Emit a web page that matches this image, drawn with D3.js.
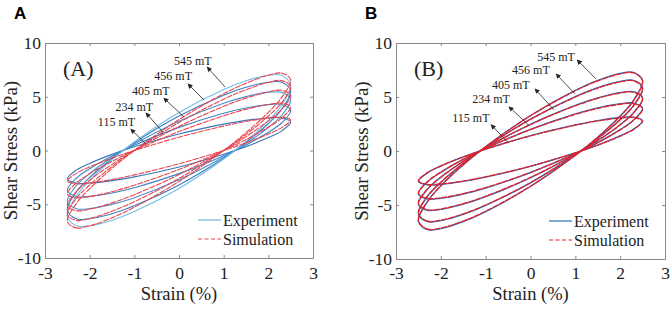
<!DOCTYPE html>
<html>
<head>
<meta charset="utf-8">
<script src="https://cdn.jsdelivr.net/npm/d3@7"></script>
<style>
body { margin: 0; background: #fff; }
svg { display: block; }
</style>
</head>
<body>
<div id="chart"></div>
<script>
const strainGrid = [-2.5, -2.3, -2, -1.5, -1, 0, 1, 1.5, 2, 2.3, 2.5];
const fieldLabels = ["115 mT", "234 mT", "405 mT", "456 mT", "545 mT"];
const xTicks = [-3, -2, -1, 0, 1, 2, 3];
const yTicks = [-10, -5, 0, 5, 10];

// Panel A - experiment, shear stress (kPa) on the upper / lower branch
const expUpperA = [
    [-2.64, -1.83, -1.20, -0.36, 0.34, 1.53, 2.45, 2.80, 3.03, 3.03, 2.64],
    [-3.72, -2.58, -1.69, -0.51, 0.48, 2.15, 3.46, 3.95, 4.27, 4.27, 3.72],
    [-4.72, -3.28, -2.14, -0.65, 0.61, 2.73, 4.39, 5.01, 5.41, 5.41, 4.72],
    [-5.54, -3.85, -2.51, -0.77, 0.72, 3.20, 5.15, 5.89, 6.35, 6.35, 5.54],
    [-6.11, -4.24, -2.77, -0.84, 0.79, 3.53, 5.67, 6.48, 7.00, 7.00, 6.11]
];
const expLowerA = [
    [-2.64, -3.03, -3.03, -2.80, -2.45, -1.53, -0.34, 0.36, 1.20, 1.83, 2.64],
    [-3.72, -4.27, -4.27, -3.95, -3.46, -2.15, -0.48, 0.51, 1.69, 2.58, 3.72],
    [-4.72, -5.41, -5.41, -5.01, -4.39, -2.73, -0.61, 0.65, 2.14, 3.28, 4.72],
    [-5.54, -6.35, -6.35, -5.89, -5.15, -3.20, -0.72, 0.77, 2.51, 3.85, 5.54],
    [-6.11, -7.00, -7.00, -6.48, -5.67, -3.53, -0.79, 0.84, 2.77, 4.24, 6.11]
];

// Panel A - simulation
const simUpperA = [
    [-2.84, -2.13, -1.53, -0.71, 0.00, 1.24, 2.27, 2.70, 3.02, 3.10, 2.84],
    [-4.03, -3.02, -2.17, -1.01, 0.00, 1.76, 3.23, 3.83, 4.28, 4.40, 4.03],
    [-5.13, -3.84, -2.76, -1.29, 0.00, 2.24, 4.11, 4.87, 5.45, 5.60, 5.13],
    [-5.96, -4.46, -3.21, -1.49, 0.00, 2.60, 4.77, 5.65, 6.33, 6.50, 5.96],
    [-6.60, -4.94, -3.55, -1.66, 0.00, 2.88, 5.28, 6.26, 7.01, 7.20, 6.60]
];
const simLowerA = [
    [-2.84, -3.10, -3.02, -2.70, -2.27, -1.24, 0.00, 0.71, 1.53, 2.13, 2.84],
    [-4.03, -4.40, -4.28, -3.83, -3.23, -1.76, 0.00, 1.01, 2.17, 3.02, 4.03],
    [-5.13, -5.60, -5.45, -4.87, -4.11, -2.24, 0.00, 1.29, 2.76, 3.84, 5.13],
    [-5.96, -6.50, -6.33, -5.65, -4.77, -2.60, 0.00, 1.49, 3.21, 4.46, 5.96],
    [-6.60, -7.20, -7.01, -6.26, -5.28, -2.88, 0.00, 1.66, 3.55, 4.94, 6.60]
];

// Panel B - experiment
const expUpperB = [
    [-2.81, -2.03, -1.40, -0.55, 0.17, 1.42, 2.42, 2.82, 3.10, 3.14, 2.81],
    [-3.97, -2.87, -1.98, -0.78, 0.25, 2.00, 3.43, 3.99, 4.38, 4.44, 3.97],
    [-4.91, -3.55, -2.44, -0.97, 0.30, 2.48, 4.23, 4.93, 5.41, 5.49, 4.91],
    [-5.85, -4.23, -2.91, -1.15, 0.36, 2.95, 5.04, 5.87, 6.45, 6.54, 5.85],
    [-6.52, -4.71, -3.24, -1.28, 0.40, 3.29, 5.62, 6.54, 7.19, 7.29, 6.52]
];
const expLowerB = [
    [-2.81, -3.14, -3.10, -2.82, -2.42, -1.42, -0.17, 0.55, 1.40, 2.03, 2.81],
    [-3.97, -4.44, -4.38, -3.99, -3.43, -2.00, -0.25, 0.78, 1.98, 2.87, 3.97],
    [-4.91, -5.49, -5.41, -4.93, -4.23, -2.48, -0.30, 0.97, 2.44, 3.55, 4.91],
    [-5.85, -6.54, -6.45, -5.87, -5.04, -2.95, -0.36, 1.15, 2.91, 4.23, 5.85],
    [-6.52, -7.29, -7.19, -6.54, -5.62, -3.29, -0.40, 1.28, 3.24, 4.71, 6.52]
];

// Panel B - simulation
const simUpperB = [
    [-2.77, -2.00, -1.38, -0.55, 0.17, 1.40, 2.39, 2.78, 3.05, 3.09, 2.77],
    [-3.93, -2.84, -1.96, -0.77, 0.24, 1.98, 3.39, 3.94, 4.33, 4.39, 3.93],
    [-4.87, -3.52, -2.42, -0.96, 0.30, 2.45, 4.19, 4.88, 5.37, 5.44, 4.87],
    [-5.80, -4.19, -2.89, -1.14, 0.36, 2.93, 5.00, 5.82, 6.40, 6.49, 5.80],
    [-6.47, -4.68, -3.22, -1.28, 0.40, 3.26, 5.58, 6.49, 7.14, 7.24, 6.47]
];
const simLowerB = [
    [-2.77, -3.09, -3.05, -2.78, -2.39, -1.40, -0.17, 0.55, 1.38, 2.00, 2.77],
    [-3.93, -4.39, -4.33, -3.94, -3.39, -1.98, -0.24, 0.77, 1.96, 2.84, 3.93],
    [-4.87, -5.44, -5.37, -4.88, -4.19, -2.45, -0.30, 0.96, 2.42, 3.52, 4.87],
    [-5.80, -6.49, -6.40, -5.82, -5.00, -2.93, -0.36, 1.14, 2.89, 4.19, 5.80],
    [-6.47, -7.24, -7.14, -6.49, -5.58, -3.26, -0.40, 1.28, 3.22, 4.68, 6.47]
];

// field labels: text centre (strain, stress), arrow tail and head
const labelPosA = [[-1.40, 2.65], [-1.00, 4.05], [-0.63, 5.53], [-0.13, 6.93], [0.31, 8.33]];
const arrowsA = [
    [-0.74, 0.60, -1.08, 2.00],
    [-0.36, 1.72, -0.74, 3.49],
    [0.11, 3.12, -0.34, 4.88],
    [0.56, 4.70, 0.20, 6.19],
    [1.03, 5.91, 0.63, 7.77]
];
const labelPosB = [[-1.33, 3.09], [-0.88, 4.84], [-0.44, 6.13], [0.01, 7.51], [0.57, 8.71]];
const arrowsB = [
    [-0.50, 0.78, -0.88, 2.44],
    [-0.03, 2.35, -0.48, 4.10],
    [0.52, 3.82, 0.10, 5.76],
    [0.99, 5.30, 0.57, 7.14],
    [1.46, 6.68, 1.04, 8.43]
];

const serif = "'Liberation Serif', 'Times New Roman', serif";

const panels = [
    {
        letter: "A", tag: "(A)",
        left: 45, right: 313, top: 43, bottom: 258,
        expUpper: expUpperA, expLower: expLowerA, simUpper: simUpperA, simLower: simLowerA,
        labels: labelPosA, arrows: arrowsA,
        expColors: ["#3a79b8", "#3f84c2", "#4a90cc", "#3b7cbd", "#72bde4"],
        expLegend: "#6fb6e0",
        simColor: "#e8444e", width: 1.1
    },
    {
        letter: "B", tag: "(B)",
        left: 396, right: 665, top: 43, bottom: 259,
        expUpper: expUpperB, expLower: expLowerB, simUpper: simUpperB, simLower: simLowerB,
        labels: labelPosB, arrows: arrowsB,
        expColors: ["#2a6ebb", "#2a6ebb", "#2a6ebb", "#2a6ebb", "#2a6ebb"],
        expLegend: "#2a6ebb",
        simColor: "#e3202a", width: 1.3
    }
];

const svg = d3.select("#chart")
    .append("svg")
    .attr("width", 671)
    .attr("height", 310);

svg.append("defs").append("marker")
    .attr("id", "arrowHead")
    .attr("viewBox", "0 0 10 10")
    .attr("refX", 9)
    .attr("refY", 5)
    .attr("markerUnits", "userSpaceOnUse")
    .attr("markerWidth", 6)
    .attr("markerHeight", 5)
    .attr("orient", "auto")
    .append("path")
    .attr("d", "M0,0 L10,5 L0,10 z")
    .attr("fill", "#222");

// one closed loop: lower branch left to right, then upper branch back
function loopPoints(upper, lower) {
    const pts = strainGrid.map((s, i) => [s, lower[i]]);
    for (let i = strainGrid.length - 2; i > 0; i--) pts.push([strainGrid[i], upper[i]]);
    return pts;
}

panels.forEach(p => {
    const x = d3.scaleLinear().domain([-3, 3]).range([p.left, p.right]);
    const y = d3.scaleLinear().domain([-10, 10]).range([p.bottom, p.top]);

    const g = svg.append("g");

    // panel letter
    g.append("text")
        .attr("x", p.left - 31)
        .attr("y", 19)
        .style("font-family", "'Liberation Sans', Arial, sans-serif")
        .style("font-weight", "bold")
        .style("font-size", "17px")
        .text(p.letter);

    const line = d3.line()
        .x(d => x(d[0]))
        .y(d => y(d[1]))
        .curve(d3.curveCatmullRomClosed.alpha(0.5));

    // experiment loops
    p.expUpper.forEach((u, i) => {
        g.append("path")
            .attr("d", line(loopPoints(u, p.expLower[i])))
            .attr("fill", "none")
            .attr("stroke", p.expColors[i])
            .attr("stroke-width", p.width);
    });

    // simulation loops
    p.simUpper.forEach((u, i) => {
        g.append("path")
            .attr("d", line(loopPoints(u, p.simLower[i])))
            .attr("fill", "none")
            .attr("stroke", p.simColor)
            .attr("stroke-width", p.width)
            .attr("stroke-dasharray", "6,1");
    });

    // axes, ticks pointing inward on all four sides
    const axisStyle = sel => {
        sel.select(".domain").attr("stroke", "#8a8a8a");
        sel.selectAll(".tick line").attr("stroke", "#8a8a8a");
        sel.selectAll(".tick text")
            .style("font-family", serif)
            .style("font-size", "17.5px")
            .attr("fill", "#222");
    };

    g.append("g")
        .attr("transform", `translate(0,${p.bottom})`)
        .call(d3.axisBottom(x).tickValues(xTicks).tickFormat(d => String(d))
            .tickSizeInner(-3).tickSizeOuter(0).tickPadding(267 - p.bottom))
        .call(axisStyle);

    g.append("g")
        .attr("transform", `translate(0,${p.top})`)
        .call(d3.axisTop(x).tickValues(xTicks).tickFormat("")
            .tickSizeInner(-3).tickSizeOuter(0))
        .call(axisStyle);

    g.append("g")
        .attr("transform", `translate(${p.left},0)`)
        .call(d3.axisLeft(y).tickValues(yTicks).tickFormat(d => String(d))
            .tickSizeInner(-3).tickSizeOuter(0).tickPadding(4))
        .call(axisStyle);

    g.append("g")
        .attr("transform", `translate(${p.right},0)`)
        .call(d3.axisRight(y).tickValues(yTicks).tickFormat("")
            .tickSizeInner(-3).tickSizeOuter(0))
        .call(axisStyle);

    // axis titles
    g.append("text")
        .attr("x", (p.left + p.right) / 2)
        .attr("y", 299.5)
        .attr("text-anchor", "middle")
        .style("font-family", serif)
        .style("font-size", "18.5px")
        .attr("fill", "#222")
        .text("Strain (%)");

    g.append("text")
        .attr("transform", `translate(${p.left - 35},${(p.top + p.bottom) / 2}) rotate(-90)`)
        .attr("dy", "0.35em")
        .attr("text-anchor", "middle")
        .style("font-family", serif)
        .style("font-size", "19px")
        .attr("fill", "#222")
        .text("Shear Stress (kPa)");

    // (A) / (B) tag
    g.append("text")
        .attr("x", p.left + 18)
        .attr("y", p.top + 33)
        .style("font-family", serif)
        .style("font-size", "22px")
        .attr("fill", "#222")
        .text(p.tag);

    // field annotations
    p.arrows.forEach(a => {
        g.append("line")
            .attr("x1", x(a[0]))
            .attr("y1", y(a[1]))
            .attr("x2", x(a[2]))
            .attr("y2", y(a[3]))
            .attr("stroke", "#222")
            .attr("stroke-width", 0.8)
            .attr("marker-end", "url(#arrowHead)");
    });

    p.labels.forEach((l, i) => {
        g.append("text")
            .attr("x", x(l[0]))
            .attr("y", y(l[1]))
            .attr("dy", "0.35em")
            .attr("text-anchor", "middle")
            .style("font-family", serif)
            .style("font-size", "12px")
            .attr("fill", "#222")
            .text(fieldLabels[i]);
    });

    // legend
    const lx = p.left + 153;
    const ly = p.bottom - 38;
    g.append("line")
        .attr("x1", lx).attr("x2", lx + 23)
        .attr("y1", ly).attr("y2", ly)
        .attr("stroke", p.expLegend)
        .attr("stroke-width", 1.2);
    g.append("line")
        .attr("x1", lx).attr("x2", lx + 23)
        .attr("y1", ly + 19).attr("y2", ly + 19)
        .attr("stroke", p.simColor)
        .attr("stroke-width", 1.2)
        .attr("stroke-dasharray", "4,2.5");
    g.append("text")
        .attr("x", lx + 25)
        .attr("y", ly)
        .attr("dy", "0.35em")
        .style("font-family", serif)
        .style("font-size", "16px")
        .attr("fill", "#222")
        .text("Experiment");
    g.append("text")
        .attr("x", lx + 25)
        .attr("y", ly + 19)
        .attr("dy", "0.35em")
        .style("font-family", serif)
        .style("font-size", "16px")
        .attr("fill", "#222")
        .text("Simulation");
});
</script>
</body>
</html>
